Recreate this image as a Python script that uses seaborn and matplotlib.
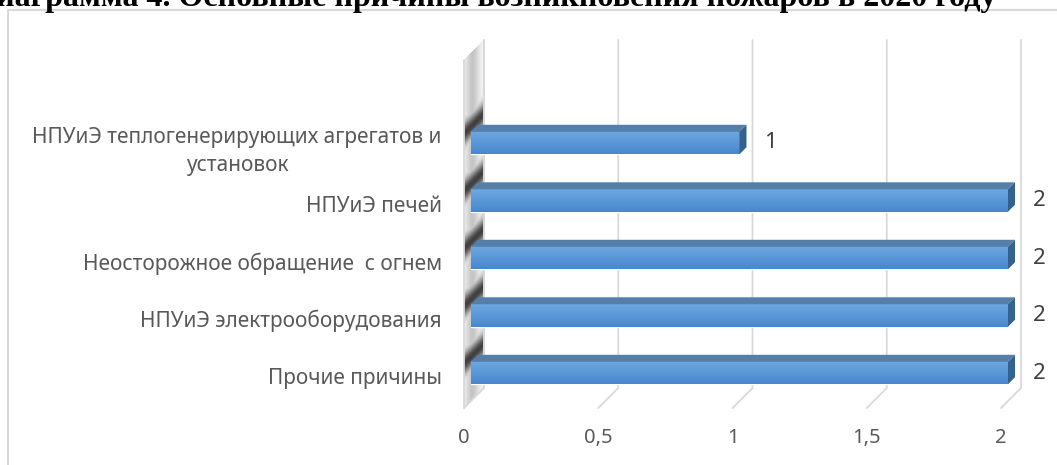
import matplotlib
matplotlib.use('Agg')
import matplotlib.pyplot as plt
import matplotlib.transforms as mtransforms
from matplotlib.patches import Polygon
from matplotlib.lines import Line2D
import numpy as np
import pandas as pd
import seaborn as sns

# data
categories = [
    'НПУиЭ теплогенерирующих агрегатов и\nустановок',
    'НПУиЭ печей',
    'Неосторожное обращение  с огнем',
    'НПУиЭ электрооборудования',
    'Прочие причины',
]
values = [1, 2, 2, 2, 2]
x_ticks = [0, 0.5, 1, 1.5, 2]
x_tick_labels = ['0', '0,5', '1', '1,5', '2']
title = 'Диаграмма 4. Основные причины возникновения пожаров в 2020 году'

W, H = 1057, 465
DEPTH = 20        # depth of the 3d box in px
BAR_DEPTH = 7     # depth of a bar in px
FRONT_GAP = 7     # bar front face sits this far behind the front of the floor
GRID = '#d9d9d9'
TEXT = '#595959'

sns.set_theme(style='white')
plt.rcParams['font.family'] = ['Noto Sans', 'DejaVu Sans']

fig = plt.figure(figsize=(W / 100, H / 100), dpi=100)
ax_top, ax_bot = 114.25, 401.75
ax = fig.add_axes([471 / W, 1 - ax_bot / H, 537 / W, (ax_bot - ax_top) / H])

df = pd.DataFrame({'cause': categories, 'count': values})
sns.barplot(data=df, x='count', y='cause', orient='h', width=0.39,
            color='#5b9bd5', saturation=1, ax=ax, zorder=3)
ax.set_xlim(0, 2)
ax.set_ylim(len(categories) - 0.5, -0.5)
for s in ax.spines.values():
    s.set_visible(False)
ax.set_xlabel('')
ax.set_ylabel('')
ax.grid(False)
ax.set_facecolor('none')

ax.set_xticks(x_ticks)
ax.set_xticklabels(x_tick_labels)
ax.tick_params(axis='x', length=0, pad=19, labelsize=14.5, labelcolor=TEXT)
ax.tick_params(axis='y', length=0, pad=21, labelsize=15, labelcolor=TEXT)
shift_x = mtransforms.ScaledTranslation(-FRONT_GAP / 100, 0, fig.dpi_scale_trans)
for lab in ax.get_xticklabels():
    lab.set_transform(lab.get_transform() + shift_x)
shift_y = mtransforms.ScaledTranslation(0, -3 / 100, fig.dpi_scale_trans)
for lab in ax.get_yticklabels():
    lab.set_multialignment('center')
    lab.set_linespacing(1.4)
    lab.set_transform(lab.get_transform() + shift_y)

ident = mtransforms.IdentityTransform()
to_disp = ax.transData.transform


def add_poly(pts, color, z, alpha=1.0, lw=0):
    ax.add_patch(Polygon(pts, closed=True, facecolor=color, edgecolor=color,
                         lw=lw, alpha=alpha, transform=ident, clip_on=False,
                         zorder=z))


# back wall gridlines + diagonal floor lines (display coords, origin bottom-left)
back_top = H - 40
back_bot = H - (ax_bot - 13.75)
off = DEPTH - FRONT_GAP
for t in x_ticks:
    xb = to_disp((t, 0))[0] + off
    ax.add_line(Line2D([xb, xb, xb - DEPTH], [back_top, back_bot, back_bot - DEPTH],
                       color=GRID, lw=1.3, transform=ident, clip_on=False, zorder=1))

# left side wall with bar shadows (drawn under the axes)
x0_front = to_disp((0, 0))[0] - FRONT_GAP
wall_w = DEPTH + 1
wall_h = int(back_top - (back_bot - DEPTH)) + 1
img = np.ones((wall_h, wall_w, 4))
img[..., 3] = 0
bar_tops = []
for p in ax.patches:
    bar_tops.append(H - to_disp((0, p.get_y()))[1])
for r in range(wall_h):
    y_px = (H - back_top) + r  # from top of figure
    for c in range(wall_w):
        y_front = y_px + c  # project onto the front edge along the 45deg depth
        if y_front < H - back_top + DEPTH or y_front > H - back_bot + DEPTH:
            continue
        d = 0.0
        for bt in bar_tops:
            d = max(d, np.exp(-((y_front - (bt + 2)) / 11.0) ** 2))
        d = max(d, 0.25 * np.exp(-((c - 8) / 6.0) ** 2))
        g = 0.95 - 0.7 * d
        img[r, c, :3] = g
        img[r, c, 3] = 1
fig.figimage(img, xo=int(x0_front), yo=int(back_bot - DEPTH), origin='upper', zorder=-1)
ax.add_line(Line2D([x0_front, x0_front], [back_top - DEPTH, back_bot - DEPTH],
                   color=GRID, lw=1.3, transform=ident, clip_on=False, zorder=2))
ax.add_line(Line2D([x0_front + DEPTH, x0_front + DEPTH], [back_top, back_bot],
                   color=GRID, lw=1.3, transform=ident, clip_on=False, zorder=2))

# 3d bars: gradient front face, top face, end face
grad = np.linspace(0, 1, 64).reshape(-1, 1)
cmap = matplotlib.colors.LinearSegmentedColormap.from_list('bar', ['#6ea8e2', '#4787cd'])
for p in ax.patches:
    x, y, w, h = p.get_x(), p.get_y(), p.get_width(), p.get_height()
    ax.imshow(grad, extent=(x, x + w, y + h, y), cmap=cmap, aspect='auto',
              zorder=3.5, origin='upper')
    lx, ty = to_disp((x, y))
    rx, by = to_disp((x + w, y + h))
    add_poly([(lx, ty), (rx, ty), (rx + BAR_DEPTH, ty + BAR_DEPTH),
              (lx + BAR_DEPTH, ty + BAR_DEPTH)], '#557ea9', 4)
    add_poly([(rx, ty), (rx + BAR_DEPTH, ty + BAR_DEPTH),
              (rx + BAR_DEPTH, by + BAR_DEPTH), (rx, by)], '#34628f', 4)
ax.set_xlim(0, 2)
ax.set_ylim(len(categories) - 0.5, -0.5)

ax.bar_label(ax.containers[0], labels=[f'{v:g}' for v in values], padding=18,
             fontsize=16, color='#404040')

# chart frame and the (cut off) document caption
fig.add_artist(Line2D([8 / W, 8 / W], [0, 1 - 10 / H], color=GRID, lw=1.5,
                      transform=fig.transFigure))
fig.add_artist(Line2D([8 / W, 1], [1 - 10 / H, 1 - 10 / H], color=GRID, lw=1.5,
                      transform=fig.transFigure))
fig.text(997 / W, 1 - 6 / H, title, ha='right', va='baseline', fontsize=23,
         fontweight='bold', family=['Liberation Serif', 'DejaVu Serif'], color='black')

fig.savefig('out.png', dpi=100)
